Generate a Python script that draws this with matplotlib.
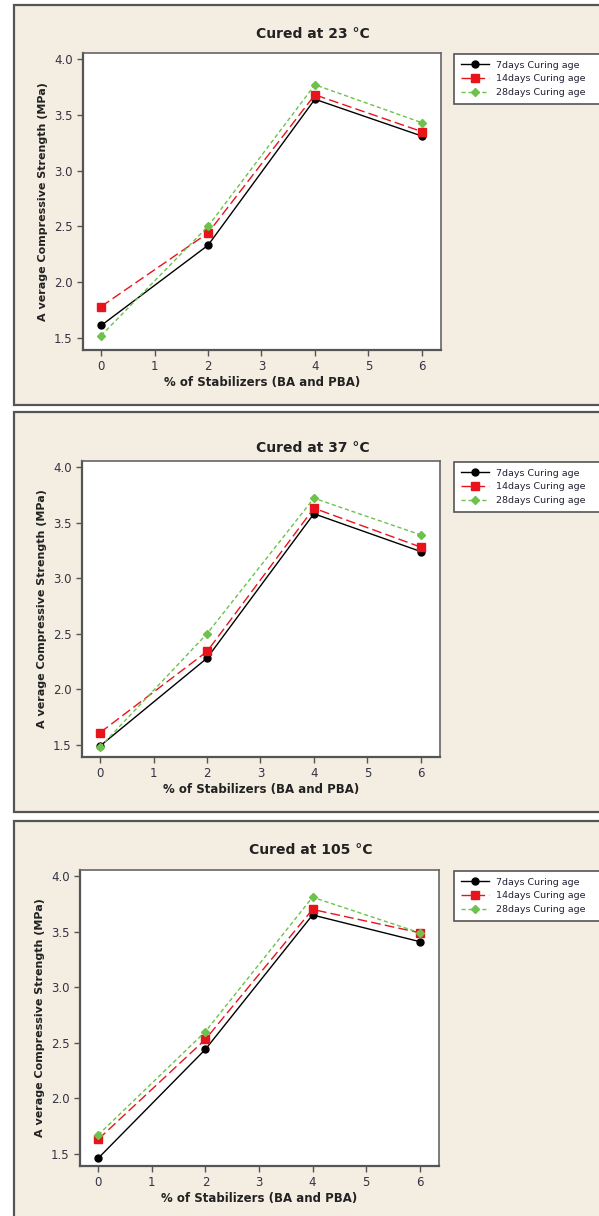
import matplotlib.pyplot as plt
from matplotlib.patches import Rectangle

# % of stabilizers
x = [0, 2, 4, 6]

titles = ['Cured at 23 \u00b0C', 'Cured at 37 \u00b0C', 'Cured at 105 \u00b0C']
labels = ['7days Curing age', '14days Curing age', '28days Curing age']

# average compressive strength (MPa), one list per curing age, per panel
t23_7 = [1.61, 2.33, 3.64, 3.31]
t23_14 = [1.78, 2.44, 3.68, 3.35]
t23_28 = [1.52, 2.50, 3.77, 3.43]

t37_7 = [1.49, 2.28, 3.58, 3.24]
t37_14 = [1.61, 2.34, 3.63, 3.28]
t37_28 = [1.48, 2.50, 3.72, 3.39]

t105_7 = [1.46, 2.44, 3.65, 3.41]
t105_14 = [1.63, 2.53, 3.70, 3.49]
t105_28 = [1.67, 2.60, 3.81, 3.49]

panels = [(t23_7, t23_14, t23_28), (t37_7, t37_14, t37_28), (t105_7, t105_14, t105_28)]

W, H = 599, 1216
fig = plt.figure(figsize=(W / 100, H / 100), dpi=100)
fig.patch.set_facecolor('white')

# pixel layout: (panel top, panel bottom, axes top, axes bottom, axes left, axes right, title y, title x)
layout = [
    (5, 405, 53, 350, 83, 441, 34, 313),
    (412, 812, 461, 757, 82, 440, 448, 313),
    (821, 1218, 870, 1166, 80, 439, 850, 311),
]

styles = [
    dict(color='black', ls='-', marker='o', ms=5),
    dict(color='#e8141c', ls=(0, (7, 3)), marker='s', ms=5.5),
    dict(color='#6cc24a', ls=(0, (3, 2)), marker='D', ms=4.5),
]

for (ptop, pbot, atop, abot, aleft, aright, ty, tx), data, title in zip(layout, panels, titles):
    fig.patches.append(Rectangle((14 / W, 1 - pbot / H), (W + 10 - 14) / W, (pbot - ptop) / H,
                                 transform=fig.transFigure, facecolor='#f3ede2',
                                 edgecolor='#555555', lw=1.6, zorder=-5))
    ax = fig.add_axes([aleft / W, 1 - abot / H, (aright - aleft) / W, (abot - atop) / H])
    ax.set_facecolor('white')
    for series, st, lab in zip(data, styles, labels):
        ax.plot(x, series, lw=1.0, label=lab, **st)
    ax.set_xlim(-0.34, 6.36)
    ax.set_ylim(1.39, 4.055)
    ax.set_xticks(range(7))
    ax.set_yticks([1.5, 2.0, 2.5, 3.0, 3.5, 4.0])
    ax.set_yticklabels(['1.5', '2.0', '2.5', '3.0', '3.5', '4.0'])
    for s in ['left', 'bottom']:
        ax.spines[s].set_color('#555555')
        ax.spines[s].set_linewidth(1.6)
    for s in ['top', 'right']:
        ax.spines[s].set_color('#666666')
        ax.spines[s].set_linewidth(1.2)
    ax.tick_params(direction='out', length=4, width=1, colors='#555555',
                   labelcolor='#333344', labelsize=8.5)
    ax.set_xlabel('% of Stabilizers (BA and PBA)', fontsize=8.5, fontweight='bold', color='#222222', labelpad=2)
    ax.set_ylabel('A verage Compressive Strength (MPa)', fontsize=8, fontweight='bold', color='#222222', labelpad=4)
    fig.text(tx / W, 1 - ty / H, title, ha='center', va='center',
             fontsize=10, fontweight='bold', color='#222222')
    # legend box runs off the right edge, as in the original
    leg = ax.legend(loc='upper left',
                    bbox_to_anchor=(454 / W, 1 - (atop + 49) / H, 170 / W, 48 / H),
                    bbox_transform=fig.transFigure, mode='expand', borderaxespad=0,
                    fontsize=6.8, frameon=True, fancybox=False, edgecolor='#555555', framealpha=1,
                    handlelength=3.0, borderpad=0.7, labelspacing=0.5, handletextpad=0.7)
    leg.get_frame().set_linewidth(1.2)
    for t in leg.get_texts():
        t.set_color('#222233')

fig.savefig('out.png', dpi=100, facecolor='white')
